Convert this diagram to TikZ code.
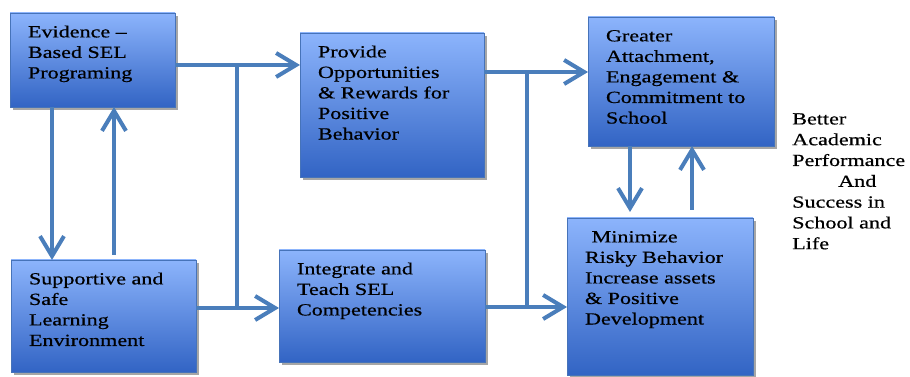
\documentclass[tikz,border=0pt]{standalone}
\usepackage{fontspec}
\setmainfont[FakeStretch=1.3,FakeBold=0.6]{Liberation Serif}
\usetikzlibrary{arrows.meta,shadows}
\definecolor{boxtop}{RGB}{140,180,252}
\definecolor{boxbottom}{RGB}{50,100,196}
\definecolor{boxedge}{RGB}{70,115,185}
\definecolor{linkblue}{RGB}{74,126,187}
\newcommand{\boxtext}[3]{\parbox[t][#2][t]{#1}{\begin{tabular}[t]{@{}l@{}}#3\end{tabular}}}

\begin{document}
\begin{tikzpicture}[x=0.75pt,y=-0.75pt]
\tikzstyle{stage} = [rectangle, anchor=north west, inner xsep=13.5pt, inner ysep=7.5pt, outer sep=0pt, top color=boxtop, bottom color=boxbottom, draw=boxedge, line width=0.6pt, drop shadow={shadow xshift=2pt,shadow yshift=-2pt,opacity=0.35,fill=black}, font=\fontsize{12.75pt}{15.4pt}\selectfont]
\tikzstyle{link} = [draw=linkblue, line width=3pt]
\tikzstyle{flow} = [link, -{Straight Barb[length=15pt,width=18pt]}]

\useasboundingbox (0,0) rectangle (910,377);

\node(evidence) [stage] at (10,13) {\boxtext{96.75pt}{55.5pt}{Evidence --\\ Based SEL\\ Programing}};
\node(provide) [stage] at (300,33) {\boxtext{111pt}{93pt}{Provide\\ Opportunities\\ \& Rewards for\\ Positive\\ Behavior}};
\node(greater) [stage] at (588,17) {\boxtext{112.5pt}{81.75pt}{Greater\\ Attachment,\\ Engagement \&\\ Commitment to\\ School}};
\node(minimize) [stage] at (567,218) {\boxtext{112.5pt}{102.75pt}{\hspace*{5pt}Minimize\\ Risky Behavior\\ Increase assets\\ \& Positive\\ Development}};
\node(supportive) [stage] at (11,260) {\boxtext{111.75pt}{69pt}{Supportive and\\ Safe\\ Learning\\ Environment}};
\node(integrate) [stage] at (279,250) {\boxtext{127.5pt}{69pt}{Integrate and\\ Teach SEL\\ Competencies}};
\node(outcome) [anchor=north west, inner sep=0pt, align=left, font=\fontsize{12.75pt}{15.6pt}\selectfont] at (792,113) {Better\\ Academic\\ Performance\\ \hspace*{34.5pt}And\\ Success in\\ School and\\ Life};

\coordinate (splitA) at (237,65);
\coordinate (splitB) at (237,308);
\coordinate (splitC) at (527,72);
\coordinate (splitD) at (527,307);

\draw[flow] (evidence.east |- splitA) -- (provide.west |- splitA);
\draw[link] (splitA) -- (splitB);
\draw[flow] (supportive.east |- splitB) -- (integrate.west |- splitB);
\draw[flow] (provide.east |- splitC) -- (greater.west |- splitC);
\draw[link] (splitC) -- (splitD);
\draw[flow] (integrate.east |- splitD) -- (minimize.west |- splitD);
\draw[flow] ([xshift=31.5pt]evidence.south west) -- ([xshift=31.5pt]evidence.south west |- supportive.north);
\draw[flow, shorten <=3.75pt] ([xshift=77.25pt]supportive.north west) -- ([xshift=77.25pt]supportive.north west |- evidence.south);
\draw[flow, shorten >=4.5pt] ([xshift=31.5pt]greater.south west) -- ([xshift=31.5pt]greater.south west |- minimize.north);
\draw[flow, shorten <=6pt] ([xshift=93.75pt]minimize.north west) -- ([xshift=93.75pt]minimize.north west |- greater.south);
\end{tikzpicture}
\end{document}
